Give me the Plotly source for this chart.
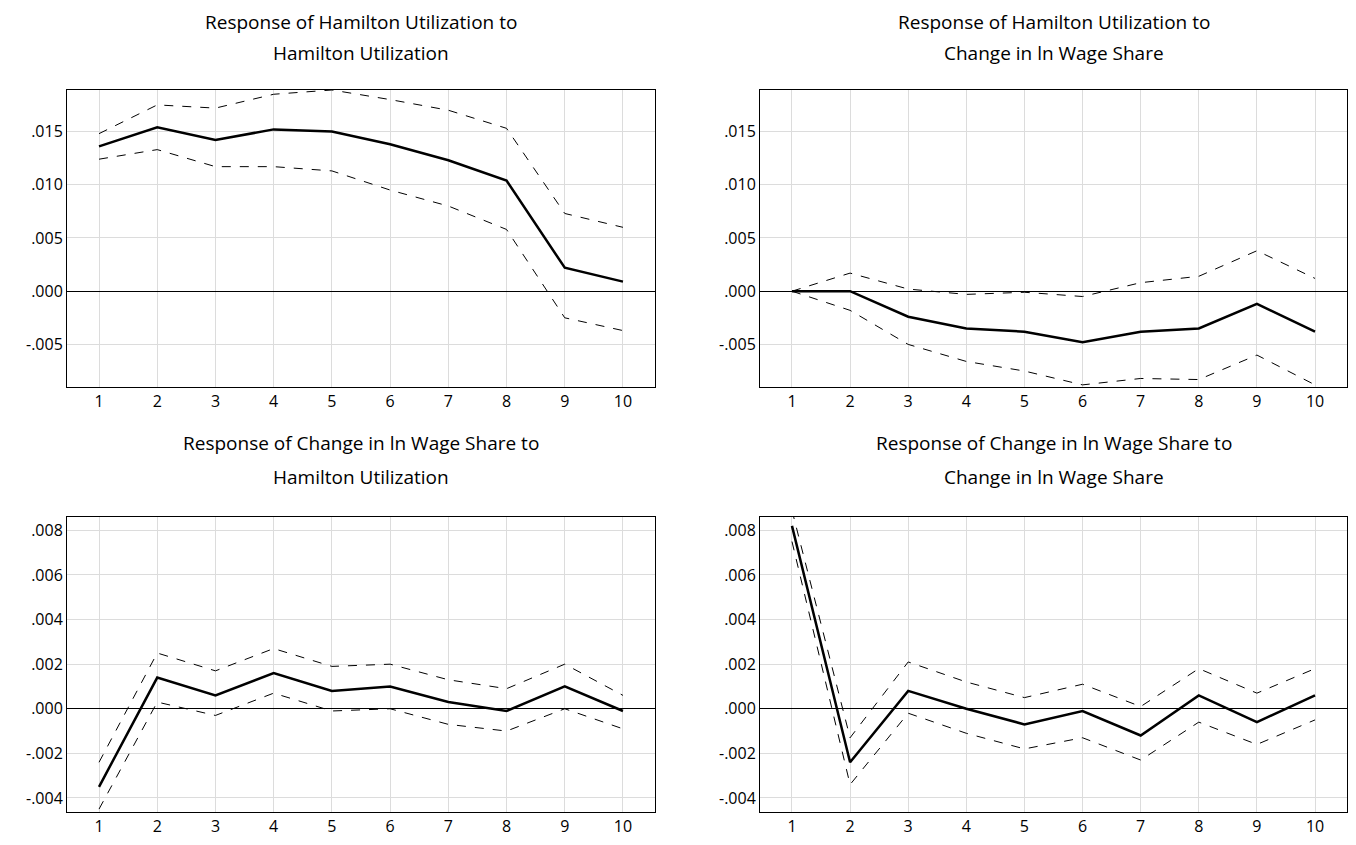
import plotly.graph_objects as go

periods = list(range(1, 11))

# Panel 1: Hamilton Utilization -> Hamilton Utilization
p1_mid = [.0136, .0154, .0142, .0152, .0150, .0138, .0123, .0104, .0022, .0009]
p1_up = [.0148, .0175, .0172, .0185, .0189, .0180, .0170, .0153, .0073, .0060]
p1_lo = [.0124, .0133, .0117, .0117, .0113, .0095, .0080, .0058, -.0025, -.0037]
# Panel 2
p2_mid = [0, 0, -.0024, -.0035, -.0038, -.0048, -.0038, -.0035, -.0012, -.0038]
p2_up = [0, .0017, .0002, -.0003, -.0001, -.0005, .0008, .0014, .0038, .0012]
p2_lo = [0, -.0018, -.0050, -.0066, -.0075, -.0088, -.0082, -.0083, -.0060, -.0088]
# Panel 3
p3_mid = [-.0035, .0014, .0006, .0016, .0008, .0010, .0003, -.0001, .0010, -.0001]
p3_up = [-.0024, .0025, .0017, .0027, .0019, .0020, .0013, .0009, .0020, .0006]
p3_lo = [-.0045, .0003, -.0003, .0007, -.0001, 0, -.0007, -.0010, 0, -.0009]
# Panel 4
p4_mid = [.0082, -.0024, .0008, 0, -.0007, -.0001, -.0012, .0006, -.0006, .0006]
p4_up = [.0089, -.0013, .0021, .0012, .0005, .0011, .0001, .0018, .0007, .0018]
p4_lo = [.0075, -.0034, -.0002, -.0011, -.0018, -.0013, -.0023, -.0006, -.0016, -.0005]

titles = [("Response of Hamilton Utilization to", "Hamilton Utilization"),
          ("Response of Hamilton Utilization to", "Change in ln Wage Share"),
          ("Response of Change in ln Wage Share to", "Hamilton Utilization"),
          ("Response of Change in ln Wage Share to", "Change in ln Wage Share")]

top_ticks = [-.005, 0, .005, .010, .015]
top_text = ["-.005", ".000", ".005", ".010", ".015"]
bot_ticks = [-.004, -.002, 0, .002, .004, .006, .008]
bot_text = ["-.004", "-.002", ".000", ".002", ".004", ".006", ".008"]

FONT = "Open Sans"
W, H, OFF = 1356, 845, 8
fig = go.Figure()
panels = [(p1_mid, p1_up, p1_lo), (p2_mid, p2_up, p2_lo), (p3_mid, p3_up, p3_lo), (p4_mid, p4_up, p4_lo)]
xpx = [(67, 655), (760, 1347)]
ypx = [(90, 387), (517, 812)]
xdom = [[(a-OFF)/W, (b-OFF)/W] for a, b in xpx]
ydom = [[1-(b-OFF)/H, 1-(a-OFF)/H] for a, b in ypx]
title_y = [(22, 53), (443, 477)]

for i, (mid, up, lo) in enumerate(panels):
    n = i + 1
    xa = "x" if n == 1 else f"x{n}"
    ya = "y" if n == 1 else f"y{n}"
    for s in (up, lo):
        fig.add_trace(go.Scatter(x=periods, y=s, mode="lines", xaxis=xa, yaxis=ya,
                                 line=dict(color="black", width=1, dash="dash"), showlegend=False))
    fig.add_trace(go.Scatter(x=periods, y=mid, mode="lines", xaxis=xa, yaxis=ya,
                             line=dict(color="black", width=2.5), showlegend=False))
    row, col = i // 2, i % 2
    top = row == 0
    ax = dict(domain=xdom[col], anchor=ya, range=[0.45, 10.55], tickvals=periods,
              showgrid=True, gridcolor="#dcdcdc", zeroline=False, showline=True, mirror=True,
              linecolor="black", linewidth=1, ticks="", tickfont=dict(family=FONT, size=16, color="black"))
    ay = dict(domain=ydom[row], anchor=xa,
              range=[-0.009, 0.0189] if top else [-0.00463, 0.0086],
              tickvals=top_ticks if top else bot_ticks, ticktext=top_text if top else bot_text,
              showgrid=True, gridcolor="#dcdcdc", zeroline=True, zerolinecolor="black", zerolinewidth=1,
              showline=True, mirror=True, linecolor="black", linewidth=1, ticks="",
              tickfont=dict(family=FONT, size=16, color="black"))
    fig.update_layout(**{("xaxis" if n == 1 else f"xaxis{n}"): ax, ("yaxis" if n == 1 else f"yaxis{n}"): ay})
    for line, ypix in zip(titles[i], title_y[row]):
        fig.add_annotation(text=line, xref="paper", yref="paper",
                           x=(xdom[col][0]+xdom[col][1])/2, y=1-(ypix-OFF)/H,
                           xanchor="center", yanchor="middle", showarrow=False,
                           font=dict(family=FONT, size=19, color="black"))

fig.update_layout(width=W, height=H, margin=dict(l=0, r=0, t=0, b=0),
                  plot_bgcolor="white", paper_bgcolor="white")
fig.write_html("out.html")
